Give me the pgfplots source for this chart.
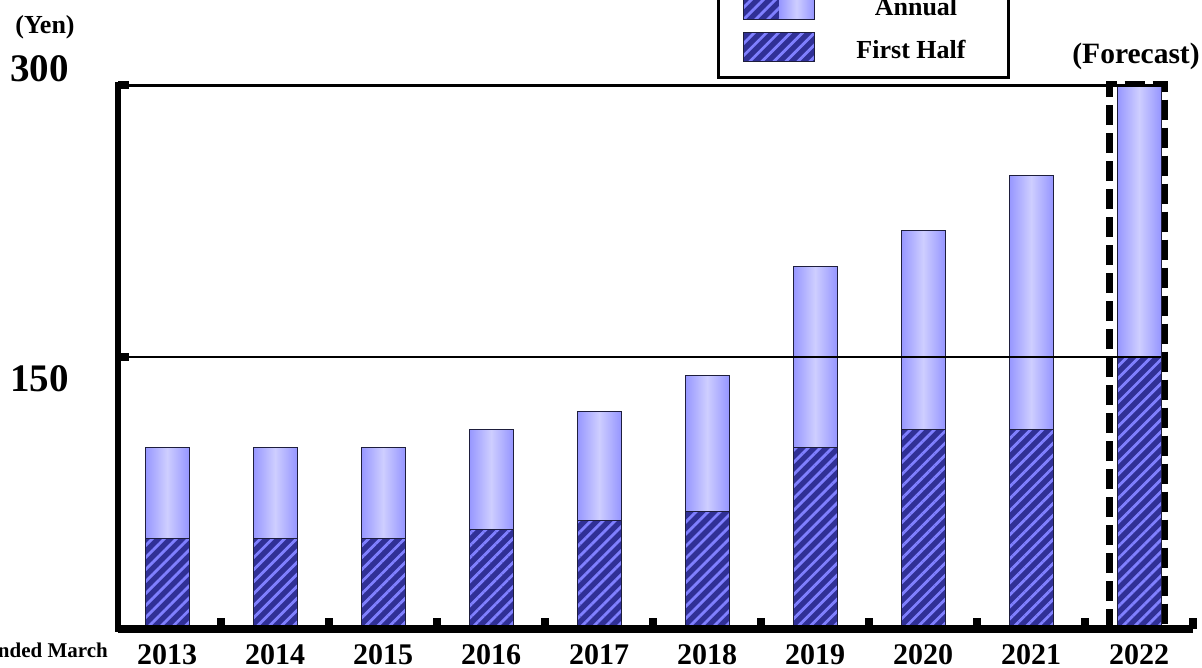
\documentclass[border=0pt]{standalone}
\usepackage{fontspec}
\setmainfont{Liberation Serif}
\usepackage{pgfplots}
\pgfplotsset{compat=1.18}
\usetikzlibrary{patterns.meta}
\definecolor{darkbg}{RGB}{48,48,150}
\definecolor{stripe}{RGB}{128,128,255}
\definecolor{lightedge}{RGB}{150,150,255}
\definecolor{lightmid}{RGB}{206,206,255}
\definecolor{barline}{RGB}{30,30,60}
\tikzset{hatchbar/.style={preaction={fill=darkbg}, pattern={Lines[angle=45,distance=8.5pt,line width=2.8pt]}, pattern color=stripe},
  lightbar/.style={left color=lightedge, right color=lightedge, middle color=lightmid}}
\pgfplotsset{annual/.style={ybar, bar width=44pt, bar shift=0pt, draw=barline, line width=0.8pt, lightbar},
  half/.style={ybar, bar width=44pt, bar shift=0pt, draw=barline, line width=0.8pt, hatchbar}}
\begin{document}
\begin{tikzpicture}
\begin{axis}[
  at={(118pt,-629pt)}, anchor=south west,
  scale only axis, width=1075pt, height=544pt,
  xmin=-0.454, xmax=9.5, ymin=0, ymax=300,
  clip=false,
  axis on top,
  axis x line*=bottom, axis y line*=left,
  x axis line style={line width=8pt, -},
  y axis line style={line width=6pt, -, line cap=rect},
  tick align=inside,
  xtick={0.5,1.5,2.5,3.5,4.5,5.5,6.5,7.5,8.5,9.5},
  xticklabels={2013,2014,2015,2016,2017,2018,2019,2020,2021,2022},
  xticklabel style={font=\bfseries\fontsize{30}{30}\selectfont, anchor=base, xshift=-54pt, yshift=-35pt, inner sep=0pt},
  ytick={150,300}, yticklabels={},
  major tick length=11pt,
  tick style={line width=8pt, black},
]
% Annual (one plot per bar so that each bar has its own shading)
\addplot[annual] coordinates {(0,100)};
\addplot[annual] coordinates {(1,100)};
\addplot[annual] coordinates {(2,100)};
\addplot[annual] coordinates {(3,110)};
\addplot[annual] coordinates {(4,120)};
\addplot[annual] coordinates {(5,140)};
\addplot[annual] coordinates {(6,200)};
\addplot[annual] coordinates {(7,220)};
\addplot[annual] coordinates {(8,250)};
\addplot[annual] coordinates {(9,300)};
% First half
\addplot[half] coordinates {(0,50) (1,50) (2,50) (3,55) (4,60) (5,65) (6,100) (7,110) (8,110) (9,150)};
\draw[line width=2.5pt] (axis cs:-0.454,150) -- (axis cs:9.2,150);
\draw[line width=3pt] (axis cs:-0.454,300) -- (axis cs:9.2,300);
\end{axis}
% forecast box
\draw[line width=6.5pt, dash pattern=on 20pt off 8pt] (1109.5pt,-629pt) rectangle (1165pt,-84pt);
\node[font=\bfseries\fontsize{29.5}{30}\selectfont, anchor=base] at (1136pt,-63pt) {(Forecast)};
% y labels
\node[font=\bfseries\fontsize{39}{40}\selectfont, anchor=base east, inner sep=0pt] at (69pt,-81pt) {300};
\node[font=\bfseries\fontsize{39}{40}\selectfont, anchor=base east, inner sep=0pt] at (69pt,-391pt) {150};
\node[font=\bfseries\fontsize{26}{26}\selectfont, anchor=base, inner sep=0pt] at (45pt,-33pt) {(Yen)};
\node[font=\bfseries\fontsize{21}{21}\selectfont, anchor=base east, inner sep=0pt] at (108pt,-657pt) {Years ended March};
% legend
\draw[line width=3pt, fill=white] (718pt,40pt) rectangle (1008pt,-77pt);
\fill[hatchbar] (743pt,10pt) rectangle (779pt,-19pt);
\fill[lightbar] (779pt,10pt) rectangle (814pt,-19pt);
\draw[barline, line width=0.8pt] (743pt,10pt) rectangle (814pt,-19pt);
\draw[barline, line width=0.8pt, hatchbar] (743pt,-32pt) rectangle (814pt,-61pt);
\node[font=\bfseries\fontsize{26}{26}\selectfont, anchor=base, inner sep=0pt] at (916pt,-15pt) {Annual};
\node[font=\bfseries\fontsize{26}{26}\selectfont, anchor=base, inner sep=0pt] at (911pt,-58pt) {First Half};
\pgfresetboundingbox
\useasboundingbox (0pt,0pt) rectangle (1202pt,-667pt);
\end{tikzpicture}
\end{document}
